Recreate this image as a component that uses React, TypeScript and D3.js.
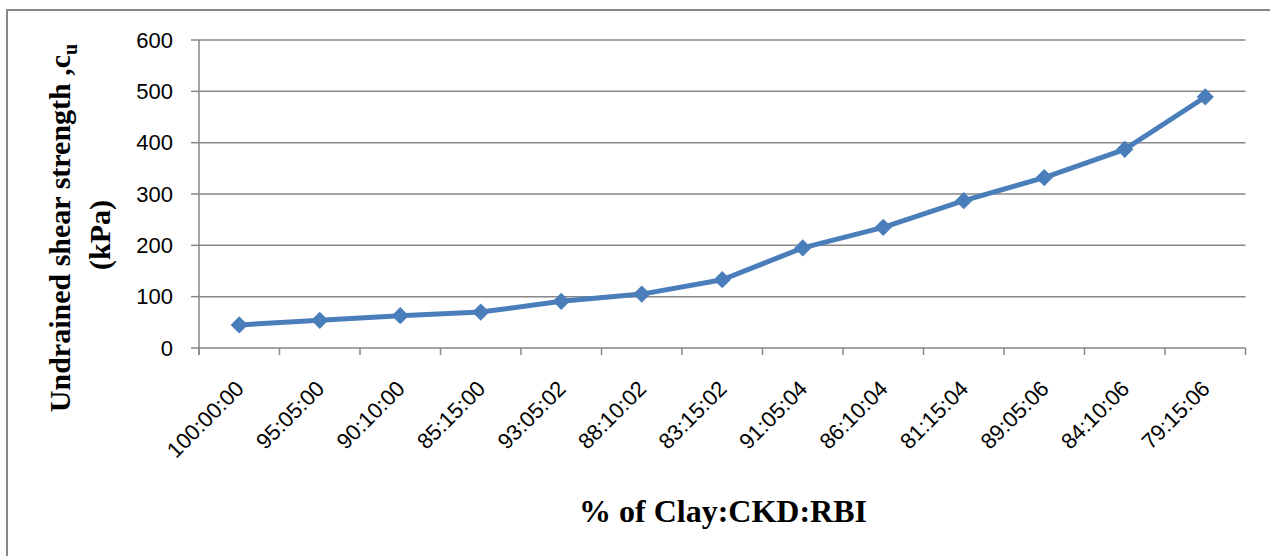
import React from 'react';
import * as d3 from 'd3';

// mix ratios (Clay:CKD:RBI) and the measured undrained shear strength
const categories = [
  '100:00:00', '95:05:00', '90:10:00', '85:15:00', '93:05:02', '88:10:02',
  '83:15:02', '91:05:04', '86:10:04', '81:15:04', '89:05:06', '84:10:06', '79:15:06',
];
const strength = [45, 54, 63, 70, 91, 105, 133, 195, 235, 287, 332, 387, 489];
const yTicks = [0, 100, 200, 300, 400, 500, 600];

const W = 1270;
const H = 556;
const plot = { left: 199, right: 1245.5, top: 40, bottom: 348 };
const grey = '#878787';
const blue = '#4A7EBB';
const sans = "'Liberation Sans', Arial, sans-serif";
const serif = "'Liberation Serif', 'Times New Roman', serif";

const App = () => {
  const x = d3.scaleBand<string>().domain(categories).range([plot.left, plot.right]);
  const y = d3.scaleLinear().domain([0, 600]).range([plot.bottom, plot.top]);
  const cx = (c: string) => (x(c) as number) + x.bandwidth() / 2;

  const line = d3.line<number>()
    .x((_, i) => cx(categories[i]))
    .y(d => y(d));

  const diamond = d3.symbol().type(d3.symbolDiamond2).size(190)();

  const boundaries = categories.map(c => x(c) as number).concat([plot.right]);

  return (
    <svg width={W} height={H} style={{ position: 'absolute', left: 0, top: 0, background: '#fff' }}>
      {/* outer chart frame */}
      <rect x={7} y={10} width={W + 20} height={H + 20} fill="none" stroke={grey} strokeWidth={2} />

      {/* gridlines */}
      {yTicks.filter(t => t > 0).map(t => (
        <line key={t} x1={plot.left} x2={plot.right} y1={y(t)} y2={y(t)} stroke={grey} strokeWidth={1.5} />
      ))}

      {/* axes */}
      <line x1={plot.left} x2={plot.left} y1={plot.top} y2={plot.bottom + 7} stroke={grey} strokeWidth={1.5} />
      <line x1={plot.left - 1} x2={plot.right} y1={plot.bottom} y2={plot.bottom} stroke={grey} strokeWidth={1.5} />
      {yTicks.map(t => (
        <g key={t}>
          <line x1={plot.left - 8} x2={plot.left} y1={y(t)} y2={y(t)} stroke={grey} strokeWidth={1.5} />
          <text x={173} y={y(t)} dy="0.35em" textAnchor="end" fontFamily={sans} fontSize={22} fill="#000">
            {t}
          </text>
        </g>
      ))}
      {boundaries.map((b, i) => (
        <line key={i} x1={b} x2={b} y1={plot.bottom} y2={plot.bottom + 7} stroke={grey} strokeWidth={1.5} />
      ))}
      {categories.map(c => (
        <text
          key={c}
          transform={`translate(${cx(c) + 6},${plot.bottom + 42}) rotate(-45)`}
          textAnchor="end"
          fontFamily={sans}
          fontSize={22}
          fill="#000"
        >
          {c}
        </text>
      ))}

      {/* series */}
      <path d={line(strength) || ''} fill="none" stroke={blue} strokeWidth={5} strokeLinejoin="round" />
      {strength.map((v, i) => (
        <path key={i} d={diamond || ''} transform={`translate(${cx(categories[i])},${y(v)})`} fill={blue} />
      ))}

      {/* axis titles */}
      <text x={723} y={522} textAnchor="middle" fontFamily={serif} fontWeight="bold" fontSize={32}>
        % of Clay:CKD:RBI
      </text>
      <g transform="translate(0,228) rotate(-90)" fontFamily={serif} fontWeight="bold" fontSize={30}>
        <text x={0} y={70} textAnchor="middle">
          Undrained shear strength ,c<tspan fontSize={20} dy={7}>u</tspan>
        </text>
        <text x={-7} y={110} textAnchor="middle">(kPa)</text>
      </g>
    </svg>
  );
};

export default App;
